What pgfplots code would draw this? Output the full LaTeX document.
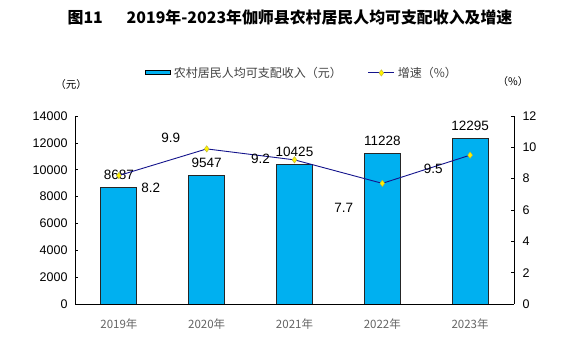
\documentclass[border=0pt]{standalone}
\usepackage{pgfplots}
\pgfplotsset{compat=1.18}
\usepackage{fontspec}
\setmainfont{Liberation Sans}
\newfontfamily\cjk{Noto Sans CJK SC}
\definecolor{barblue}{RGB}{0,176,240}
\definecolor{linenavy}{RGB}{20,20,140}
\definecolor{tickgray}{RGB}{100,100,100}
\pgfplotsset{
  lineleg/.style={legend image code/.code={\draw[mark repeat=2,mark phase=2,##1] plot coordinates {(0pt,0pt) (13pt,0pt) (26pt,0pt)};}},
}
\begin{document}
\begin{tikzpicture}
\begin{axis}[
  at={(75pt,54pt)}, anchor=south west, scale only axis,
  width=439pt, height=188pt,
  xmin=-0.5, xmax=4.5, ymin=0, ymax=14000,
  ytick={0,2000,...,14000},
  scaled y ticks=false,
  axis y line*=left, axis x line*=bottom,
  xtick={0,...,4},
  xticklabels={2019年,2020年,2021年,2022年,2023年},
  x tick label style={font=\cjk\fontsize{11.5}{11.5}\selectfont, text=tickgray, yshift=-8pt},
  y tick label style={font=\fontsize{12.5}{12.5}\selectfont, xshift=-4pt},
  minor xtick={0.5,1.5,2.5,3.5},
  xtick style={draw=none},
  major tick length=3pt, minor tick length=4pt,
  tick align=inside,
  /pgf/number format/1000 sep={},
  /pgf/number format/assume math mode=true,
  axis line style={line width=0.8pt},
  tick style={black, line width=0.6pt},
  ybar, bar width=36pt,
  nodes near coords,
  nodes near coords style={font=\fontsize{13.5}{13.5}\selectfont, black, yshift=4pt},
]
\addplot[fill=barblue, draw=black!85, line width=0.9pt] coordinates {(0,8687) (1,9547) (2,10425) (3,11228) (4,12295)};
\end{axis}
\begin{axis}[
  at={(75pt,54pt)}, anchor=south west, scale only axis,
  width=439pt, height=188pt,
  xmin=-0.5, xmax=4.5, ymin=0, ymax=12,
  ytick={0,2,...,12},
  axis y line*=right, axis x line=none,
  y tick label style={font=\fontsize{12.5}{12.5}\selectfont, xshift=5pt},
  major tick length=3pt, tick align=inside,
  /pgf/number format/assume math mode=true,
  axis line style={line width=0.8pt},
  tick style={black, line width=0.6pt},
  legend columns=2,
  legend style={at={(0.517,1.229)}, anchor=center, draw=none, fill=none,
    font=\cjk\fontsize{12}{12}\selectfont, text=black!75,
    /tikz/every odd column/.append style={column sep=1pt},
    /tikz/every even column/.append style={column sep=24pt}},
]
\addlegendimage{legend image code/.code={\draw[fill=barblue, draw=black, line width=0.9pt] (0pt,-2pt) rectangle (25pt,2.5pt);}}
\addlegendentry{农村居民人均可支配收入（元）}
\addplot[color=linenavy, line width=0.9pt, mark=diamond*, mark size=3.2pt,
  mark options={fill=yellow, draw=yellow!70!black, line width=0.4pt}, lineleg]
  coordinates {(0,8.2) (1,9.9) (2,9.2) (3,7.7) (4,9.5)};
\addlegendentry{增速（\%）}
\begin{scope}[font=\fontsize{13.5}{13.5}\selectfont]
\node at (axis cs:0.364,7.40) {8.2};
\node at (axis cs:0.591,10.6) {9.9};
\node at (axis cs:1.614,9.26) {9.2};
\node at (axis cs:2.56,6.13) {7.7};
\node at (axis cs:3.58,8.62) {9.5};
\end{scope}
\end{axis}
\node[font=\cjk\bfseries\fontsize{15.9}{15.9}\selectfont] at (290pt,341pt) {图11\hspace{1.5em}2019年-2023年伽师县农村居民人均可支配收入及增速};
\node[font=\cjk\fontsize{10.5}{10.5}\selectfont] at (71pt,273pt) {（元）};
\node[font=\cjk\fontsize{10.5}{10.5}\selectfont] at (513pt,276pt) {（\%）};
\pgfresetboundingbox
\useasboundingbox (0pt,0pt) rectangle (575pt,358pt);
\end{tikzpicture}
\end{document}
